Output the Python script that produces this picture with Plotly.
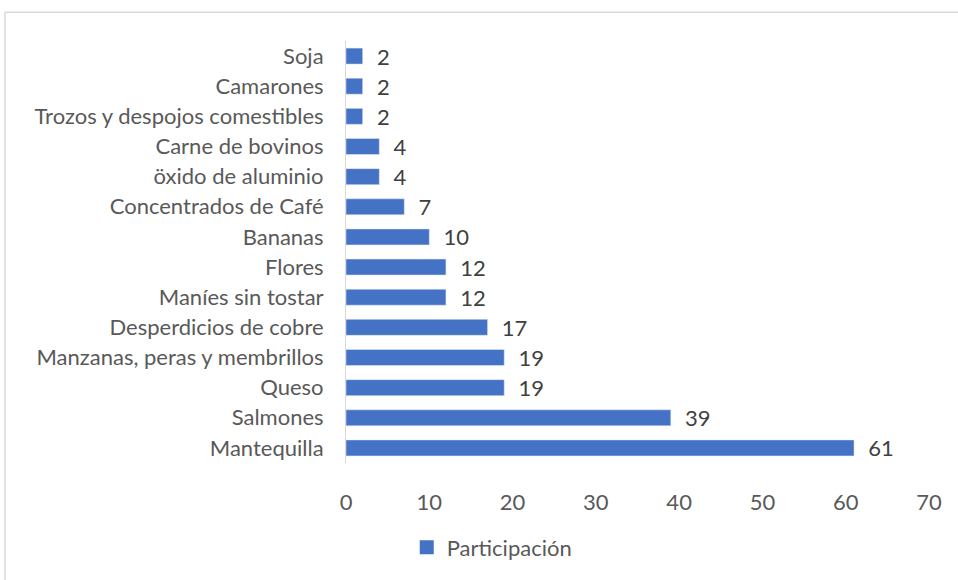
import plotly.graph_objects as go

categories = [
    "Soja", "Camarones", "Trozos y despojos comestibles", "Carne de bovinos",
    "öxido de aluminio", "Concentrados de Café", "Bananas", "Flores",
    "Maníes sin tostar", "Desperdicios de cobre", "Manzanas, peras y membrillos",
    "Queso", "Salmones", "Mantequilla",
]
values = [2, 2, 2, 4, 4, 7, 10, 12, 12, 17, 19, 19, 39, 61]
x_ticks = [0, 10, 20, 30, 40, 50, 60, 70]

FONT = "Lato, 'Open Sans', sans-serif"
GRAY = "#595959"
BLUE = "#4472C4"
SIZE = 22

fig = go.Figure()
fig.add_trace(go.Bar(
    name="Participación",
    x=values,
    y=categories,
    orientation="h",
    marker_color=BLUE,
    texttemplate="\u00a0\u00a0%{x}",
    textposition="outside",
    constraintext="none",
    textfont=dict(size=SIZE, color="#404040", family=FONT),
    cliponaxis=False,
    showlegend=False,
))
# legend entry with a larger square swatch, like the original
fig.add_trace(go.Scatter(
    name="Participación",
    x=[None],
    y=[None],
    mode="markers",
    marker=dict(symbol="square", size=14, color=BLUE),
    showlegend=True,
))

fig.update_layout(
    width=958,
    height=580,
    margin=dict(l=346, r=29, t=41, b=115),
    paper_bgcolor="white",
    plot_bgcolor="white",
    font=dict(family=FONT, size=SIZE, color=GRAY),
    bargap=0.47,
    showlegend=True,
    legend=dict(
        orientation="h",
        x=0.25, xanchor="center",
        y=-0.2, yanchor="middle",
        itemwidth=30,
        font=dict(size=SIZE, color=GRAY),
    ),
    shapes=[dict(
        type="rect", xref="paper", yref="paper",
        x0=-0.585, x1=1.2, y0=-0.5, y1=1.068,
        line=dict(color="#d9d9d9", width=1.5),
    )],
)

fig.update_xaxes(
    range=[0, 70],
    tickvals=x_ticks,
    showgrid=False,
    zeroline=False,
    showline=False,
    automargin=False,
    ticks="outside",
    ticklen=20,
    tickcolor="rgba(0,0,0,0)",
    tickfont=dict(size=SIZE, color=GRAY),
)
fig.update_yaxes(
    autorange="reversed",
    showgrid=False,
    showline=True,
    linecolor="#d9d9d9",
    linewidth=1,
    automargin=False,
    ticks="outside",
    ticklen=17,
    tickcolor="rgba(0,0,0,0)",
    tickfont=dict(size=SIZE, color=GRAY),
)

fig.write_html(
    "out.html",
    config={"displayModeBar": False},
    post_script="document.body.style.margin='0';",
)
